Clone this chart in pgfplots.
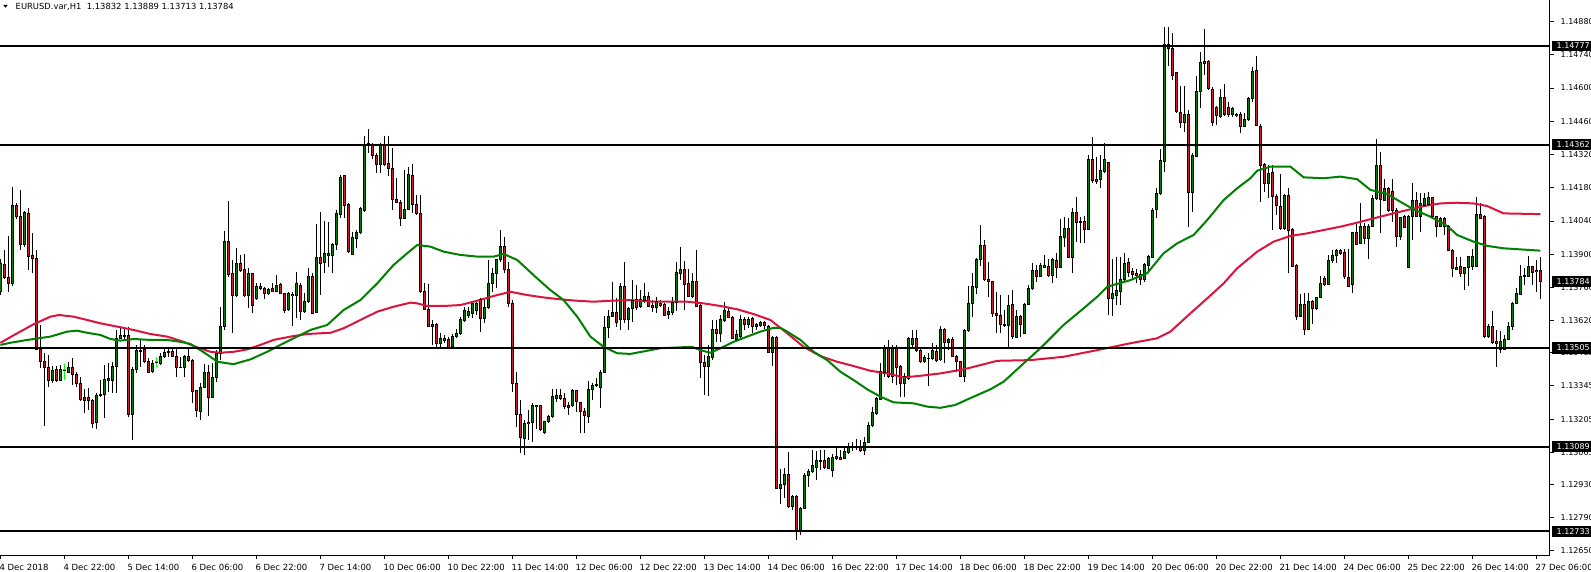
\documentclass[border=0pt]{standalone}
\usepackage{fontspec}
\setmainfont{DejaVu Sans}
\usepackage{pgfplots}
\usepackage{pgfplotstable}
\pgfplotsset{compat=1.18}
\definecolor{bullg}{RGB}{0,128,0}
\definecolor{bearr}{RGB}{205,30,45}
\definecolor{magreen}{RGB}{0,128,0}
\definecolor{mared}{RGB}{220,20,60}
\definecolor{limeg}{RGB}{0,255,0}

\pgfplotstableread{
i O H L C
0 1.13742 1.13880 1.13728 1.13859
3 1.13775 1.14182 1.13766 1.14107
6 1.13942 1.14084 1.13929 1.14075
13 1.13370 1.13429 1.13356 1.13412
15 1.13370 1.13433 1.13367 1.13415
16 1.13412 1.13438 1.13370 1.13413
17 1.13402 1.13447 1.13398 1.13421
24 1.13190 1.13314 1.13162 1.13307
25 1.13307 1.13370 1.13300 1.13308
26 1.13310 1.13433 1.13209 1.13373
27 1.13370 1.13440 1.13321 1.13377
28 1.13370 1.13447 1.13317 1.13429
29 1.13429 1.13581 1.13317 1.13546
30 1.13546 1.13588 1.13546 1.13556
33 1.13223 1.13424 1.13117 1.13415
34 1.13415 1.13518 1.13398 1.13494
38 1.13405 1.13454 1.13398 1.13440
39 1.13446 1.13466 1.13424 1.13447
40 1.13438 1.13483 1.13433 1.13471
41 1.13469 1.13504 1.13461 1.13485
42 1.13485 1.13511 1.13469 1.13490
46 1.13424 1.13475 1.13384 1.13471
50 1.13237 1.13356 1.13202 1.13339
51 1.13339 1.13438 1.13335 1.13402
53 1.13297 1.13440 1.13293 1.13381
54 1.13381 1.13497 1.13363 1.13483
55 1.13483 1.13679 1.13454 1.13595
56 1.13595 1.13998 1.13581 1.13952
59 1.13728 1.13925 1.13721 1.13862
62 1.13728 1.13841 1.13672 1.13820
64 1.13714 1.13777 1.13707 1.13766
67 1.13735 1.13756 1.13728 1.13752
69 1.13745 1.13813 1.13742 1.13770
72 1.13668 1.13741 1.13662 1.13735
74 1.13728 1.13824 1.13630 1.13775
76 1.13658 1.13735 1.13654 1.13702
77 1.13702 1.13841 1.13693 1.13808
79 1.13655 1.14027 1.13651 1.13887
81 1.13865 1.14042 1.13820 1.13904
82 1.13894 1.14035 1.13848 1.13904
83 1.13894 1.13946 1.13820 1.13942
84 1.13942 1.14087 1.13918 1.14073
85 1.14068 1.14234 1.14052 1.14224
88 1.13900 1.13995 1.13897 1.13972
89 1.13967 1.14002 1.13925 1.13993
90 1.13991 1.14097 1.13986 1.14091
91 1.14084 1.14396 1.14080 1.14363
95 1.14279 1.14368 1.14244 1.14356
101 1.14052 1.14255 1.14047 1.14090
102 1.14090 1.14269 1.14087 1.14234
110 1.13525 1.13570 1.13511 1.13546
113 1.13511 1.13564 1.13504 1.13553
114 1.13553 1.13584 1.13549 1.13567
115 1.13567 1.13637 1.13560 1.13623
116 1.13620 1.13679 1.13616 1.13661
117 1.13644 1.13679 1.13630 1.13658
118 1.13649 1.13696 1.13630 1.13693
119 1.13661 1.13708 1.13644 1.13693
121 1.13630 1.13708 1.13609 1.13675
122 1.13675 1.13876 1.13668 1.13778
123 1.13778 1.13841 1.13743 1.13817
124 1.13817 1.13879 1.13757 1.13876
125 1.13876 1.14002 1.13869 1.13932
131 1.13125 1.13202 1.13055 1.13188
133 1.13191 1.13272 1.13111 1.13261
134 1.13261 1.13265 1.13163 1.13262
136 1.13149 1.13199 1.13143 1.13195
137 1.13195 1.13223 1.13188 1.13216
138 1.13216 1.13331 1.13212 1.13300
139 1.13293 1.13331 1.13279 1.13303
143 1.13261 1.13331 1.13258 1.13324
147 1.13216 1.13364 1.13188 1.13331
148 1.13331 1.13359 1.13286 1.13349
149 1.13349 1.13378 1.13340 1.13350
150 1.13340 1.13413 1.13251 1.13403
151 1.13403 1.13640 1.13399 1.13592
152 1.13592 1.13665 1.13546 1.13637
153 1.13637 1.13785 1.13637 1.13654
155 1.13623 1.13778 1.13581 1.13764
157 1.13623 1.13679 1.13581 1.13672
158 1.13672 1.13791 1.13616 1.13707
160 1.13679 1.13749 1.13672 1.13710
161 1.13707 1.13777 1.13696 1.13724
164 1.13676 1.13721 1.13654 1.13700
167 1.13648 1.13679 1.13626 1.13658
168 1.13654 1.13721 1.13644 1.13696
169 1.13696 1.13869 1.13662 1.13822
170 1.13819 1.13932 1.13791 1.13836
173 1.13724 1.13819 1.13714 1.13784
177 1.13429 1.13518 1.13304 1.13468
178 1.13466 1.13623 1.13454 1.13581
180 1.13567 1.13644 1.13532 1.13623
181 1.13620 1.13700 1.13616 1.13661
184 1.13539 1.13581 1.13532 1.13560
185 1.13555 1.13644 1.13539 1.13626
187 1.13605 1.13634 1.13588 1.13626
190 1.13599 1.13620 1.13592 1.13612
193 1.13485 1.13555 1.13429 1.13550
195 1.12914 1.12994 1.12848 1.12928
196 1.12928 1.12998 1.12872 1.12974
198 1.12836 1.12886 1.12822 1.12881
200 1.12738 1.12836 1.12717 1.12829
201 1.12829 1.12980 1.12825 1.12966
202 1.12966 1.12994 1.12921 1.12984
203 1.12984 1.13075 1.12980 1.13008
204 1.13002 1.13072 1.12949 1.13033
207 1.12998 1.13047 1.12994 1.13040
208 1.12988 1.13058 1.12960 1.13044
211 1.13040 1.13092 1.13036 1.13068
212 1.13064 1.13103 1.13058 1.13092
216 1.13072 1.13131 1.13054 1.13107
217 1.13107 1.13195 1.13103 1.13180
218 1.13178 1.13258 1.13174 1.13232
219 1.13230 1.13300 1.13223 1.13293
220 1.13290 1.13440 1.13286 1.13405
221 1.13402 1.13518 1.13384 1.13503
223 1.13387 1.13518 1.13356 1.13503
226 1.13356 1.13398 1.13300 1.13384
227 1.13377 1.13553 1.13370 1.13546
228 1.13518 1.13581 1.13510 1.13546
231 1.13447 1.13475 1.13443 1.13464
232 1.13461 1.13482 1.13345 1.13462
233 1.13461 1.13525 1.13454 1.13494
235 1.13457 1.13598 1.13452 1.13584
237 1.13528 1.13546 1.13497 1.13542
241 1.13384 1.13584 1.13363 1.13577
242 1.13577 1.13766 1.13574 1.13693
243 1.13693 1.13820 1.13637 1.13764
244 1.13761 1.13883 1.13733 1.13879
245 1.13879 1.14023 1.13851 1.13935
252 1.13598 1.13728 1.13500 1.13686
254 1.13550 1.13665 1.13546 1.13637
256 1.13567 1.13696 1.13564 1.13690
257 1.13690 1.13771 1.13686 1.13755
258 1.13755 1.13865 1.13749 1.13831
260 1.13806 1.13865 1.13803 1.13851
261 1.13845 1.13897 1.13841 1.13852
263 1.13809 1.13883 1.13780 1.13876
265 1.13845 1.14047 1.13841 1.13974
266 1.13971 1.14058 1.13932 1.14009
268 1.13887 1.14094 1.13823 1.14075
270 1.14033 1.14058 1.13949 1.14037
272 1.14006 1.14318 1.14002 1.14297
275 1.14213 1.14318 1.14178 1.14251
276 1.14248 1.14367 1.14244 1.14297
278 1.13712 1.13879 1.13640 1.13735
279 1.13728 1.13887 1.13686 1.13747
280 1.13742 1.13887 1.13686 1.13794
281 1.13794 1.13904 1.13785 1.13862
286 1.13794 1.13862 1.13785 1.13855
287 1.13851 1.13897 1.13820 1.13890
288 1.13887 1.14094 1.13883 1.14084
289 1.14087 1.14178 1.14051 1.14157
290 1.14154 1.14342 1.14150 1.14294
291 1.14290 1.14859 1.14248 1.14782
296 1.14454 1.14609 1.14417 1.14490
298 1.14160 1.14325 1.14080 1.14314
299 1.14311 1.14651 1.14308 1.14585
300 1.14585 1.14754 1.14515 1.14707
301 1.14704 1.14848 1.14655 1.14714
305 1.14480 1.14595 1.14473 1.14561
308 1.14487 1.14522 1.14480 1.14515
311 1.14440 1.14497 1.14435 1.14466
312 1.14466 1.14564 1.14463 1.14557
313 1.14557 1.14690 1.14540 1.14670
317 1.14198 1.14275 1.14135 1.14240
321 1.14009 1.14153 1.14002 1.14149
325 1.13636 1.13732 1.13634 1.13688
327 1.13583 1.13738 1.13580 1.13700
329 1.13672 1.13721 1.13667 1.13717
330 1.13717 1.13808 1.13714 1.13777
332 1.13774 1.13896 1.13771 1.13875
333 1.13872 1.13917 1.13864 1.13896
334 1.13896 1.13924 1.13864 1.13917
338 1.13774 1.13995 1.13738 1.13990
340 1.13945 1.14117 1.13943 1.14018
342 1.13966 1.14027 1.13882 1.14018
343 1.14018 1.14149 1.14016 1.14135
344 1.14135 1.14384 1.14128 1.14275
346 1.14128 1.14219 1.14125 1.14177
350 1.13974 1.14058 1.13960 1.14054
352 1.13844 1.14065 1.13840 1.14061
353 1.14058 1.14201 1.13962 1.14128
355 1.14058 1.14156 1.13992 1.14114
356 1.14107 1.14159 1.14103 1.14135
357 1.14111 1.14163 1.14107 1.14139
360 1.14018 1.14058 1.14016 1.14051
364 1.13836 1.13889 1.13833 1.13844
366 1.13819 1.13847 1.13749 1.13844
367 1.13844 1.13889 1.13766 1.13889
368 1.13847 1.13924 1.13833 1.13889
369 1.13850 1.14139 1.13847 1.14069
372 1.13552 1.13606 1.13549 1.13597
375 1.13499 1.13577 1.13486 1.13531
376 1.13499 1.13559 1.13496 1.13541
377 1.13541 1.13615 1.13538 1.13597
378 1.13597 1.13700 1.13580 1.13693
379 1.13693 1.13756 1.13690 1.13735
380 1.13732 1.13854 1.13728 1.13808
381 1.13805 1.13840 1.13770 1.13812
382 1.13808 1.13892 1.13805 1.13847
}\bull

\pgfplotstableread{
i O H L C
1 1.13857 1.13918 1.13794 1.13803
2 1.13803 1.13977 1.13742 1.13777
4 1.14107 1.14117 1.14047 1.14058
5 1.14061 1.14171 1.13918 1.13942
7 1.14072 1.14093 1.13834 1.13890
8 1.13893 1.13988 1.13820 1.13881
9 1.13883 1.13918 1.13497 1.13499
10 1.13499 1.13602 1.13419 1.13447
11 1.13450 1.13483 1.13176 1.13424
12 1.13424 1.13476 1.13342 1.13367
14 1.13415 1.13429 1.13363 1.13370
18 1.13421 1.13461 1.13349 1.13395
19 1.13395 1.13405 1.13342 1.13356
20 1.13356 1.13384 1.13283 1.13286
21 1.13297 1.13331 1.13230 1.13283
22 1.13297 1.13335 1.13244 1.13283
23 1.13283 1.13289 1.13167 1.13188
31 1.13556 1.13588 1.13539 1.13554
32 1.13556 1.13595 1.13216 1.13223
35 1.13494 1.13539 1.13426 1.13492
36 1.13497 1.13518 1.13440 1.13447
37 1.13450 1.13461 1.13398 1.13401
43 1.13492 1.13508 1.13466 1.13471
44 1.13471 1.13504 1.13384 1.13424
45 1.13424 1.13469 1.13420 1.13423
47 1.13471 1.13511 1.13447 1.13454
48 1.13454 1.13457 1.13272 1.13321
49 1.13325 1.13328 1.13216 1.13241
52 1.13402 1.13433 1.13219 1.13297
57 1.13952 1.14124 1.13803 1.13813
58 1.13817 1.13876 1.13570 1.13728
60 1.13862 1.13897 1.13827 1.13831
61 1.13834 1.13901 1.13721 1.13728
63 1.13817 1.13820 1.13654 1.13683
65 1.13766 1.13777 1.13749 1.13755
66 1.13756 1.13763 1.13710 1.13735
68 1.13754 1.13777 1.13742 1.13745
70 1.13773 1.13777 1.13732 1.13735
71 1.13735 1.13738 1.13654 1.13662
73 1.13730 1.13742 1.13598 1.13729
75 1.13770 1.13777 1.13623 1.13658
78 1.13808 1.13822 1.13648 1.13651
80 1.13886 1.14080 1.13729 1.13862
86 1.14230 1.14234 1.14052 1.14105
87 1.14108 1.14115 1.13904 1.13911
92 1.14368 1.14428 1.14325 1.14358
93 1.14356 1.14368 1.14300 1.14314
94 1.14314 1.14325 1.14244 1.14279
96 1.14356 1.14396 1.14272 1.14279
97 1.14283 1.14400 1.14230 1.14262
98 1.14262 1.14347 1.14087 1.14132
99 1.14132 1.14220 1.14118 1.14119
100 1.14118 1.14129 1.14017 1.14052
103 1.14230 1.14279 1.14073 1.14111
104 1.14111 1.14150 1.14066 1.14073
105 1.14073 1.14150 1.13736 1.13743
106 1.13743 1.13778 1.13665 1.13668
107 1.13668 1.13775 1.13592 1.13595
108 1.13605 1.13623 1.13518 1.13595
109 1.13605 1.13609 1.13500 1.13525
111 1.13546 1.13560 1.13525 1.13536
112 1.13542 1.13553 1.13500 1.13504
120 1.13710 1.13715 1.13574 1.13630
126 1.13932 1.13974 1.13820 1.13834
127 1.13834 1.13869 1.13679 1.13693
128 1.13693 1.13708 1.13321 1.13356
129 1.13356 1.13406 1.13174 1.13223
130 1.13223 1.13286 1.13062 1.13128
132 1.13191 1.13244 1.13118 1.13190
135 1.13261 1.13265 1.13157 1.13163
140 1.13303 1.13331 1.13286 1.13293
141 1.13293 1.13314 1.13247 1.13258
142 1.13262 1.13279 1.13223 1.13255
144 1.13324 1.13326 1.13237 1.13279
145 1.13276 1.13279 1.13149 1.13237
146 1.13237 1.13251 1.13149 1.13219
154 1.13654 1.13715 1.13595 1.13613
156 1.13764 1.13869 1.13609 1.13623
159 1.13710 1.13770 1.13665 1.13676
162 1.13724 1.13742 1.13676 1.13679
163 1.13682 1.13707 1.13658 1.13676
165 1.13693 1.13707 1.13679 1.13686
166 1.13690 1.13693 1.13640 1.13644
171 1.13836 1.13871 1.13665 1.13773
172 1.13777 1.13836 1.13721 1.13724
174 1.13784 1.13918 1.13676 1.13679
175 1.13682 1.13690 1.13380 1.13443
176 1.13443 1.13475 1.13307 1.13429
179 1.13581 1.13623 1.13532 1.13567
182 1.13658 1.13679 1.13630 1.13634
183 1.13634 1.13640 1.13541 1.13546
186 1.13626 1.13634 1.13581 1.13605
188 1.13630 1.13634 1.13570 1.13595
189 1.13602 1.13612 1.13581 1.13595
191 1.13612 1.13620 1.13584 1.13598
192 1.13595 1.13602 1.13482 1.13485
194 1.13550 1.13555 1.12909 1.12914
197 1.12974 1.13068 1.12829 1.12836
199 1.12881 1.12886 1.12696 1.12738
205 1.13033 1.13075 1.12991 1.13026
206 1.13030 1.13075 1.12994 1.13002
209 1.13047 1.13082 1.13033 1.13040
210 1.13044 1.13075 1.13033 1.13037
213 1.13092 1.13110 1.13072 1.13086
214 1.13092 1.13120 1.13075 1.13086
215 1.13086 1.13117 1.13068 1.13075
222 1.13506 1.13539 1.13377 1.13384
224 1.13503 1.13518 1.13349 1.13423
225 1.13429 1.13433 1.13300 1.13356
229 1.13546 1.13581 1.13489 1.13494
230 1.13496 1.13503 1.13443 1.13450
234 1.13492 1.13518 1.13447 1.13454
236 1.13584 1.13588 1.13441 1.13528
238 1.13542 1.13553 1.13469 1.13471
239 1.13471 1.13476 1.13405 1.13450
240 1.13450 1.13452 1.13382 1.13384
246 1.13935 1.13960 1.13789 1.13794
247 1.13794 1.13869 1.13721 1.13785
248 1.13785 1.13789 1.13637 1.13651
249 1.13651 1.13743 1.13567 1.13641
250 1.13644 1.13728 1.13567 1.13602
251 1.13602 1.13665 1.13595 1.13598
253 1.13690 1.13750 1.13542 1.13553
255 1.13637 1.13644 1.13553 1.13602
259 1.13831 1.13855 1.13785 1.13806
262 1.13848 1.13879 1.13803 1.13809
264 1.13873 1.13904 1.13799 1.13845
267 1.14009 1.14051 1.13883 1.13887
269 1.14075 1.14140 1.13953 1.14033
271 1.14037 1.14061 1.13949 1.14006
273 1.14297 1.14393 1.14199 1.14209
274 1.14216 1.14311 1.14196 1.14206
277 1.14287 1.14290 1.13644 1.13714
282 1.13866 1.13883 1.13806 1.13824
283 1.13827 1.13841 1.13792 1.13813
284 1.13817 1.13836 1.13778 1.13809
285 1.13813 1.13834 1.13771 1.13794
292 1.14782 1.14859 1.14693 1.14768
293 1.14768 1.14831 1.14634 1.14655
294 1.14667 1.14669 1.14494 1.14501
295 1.14498 1.14609 1.14431 1.14454
297 1.14490 1.14508 1.14016 1.14160
302 1.14714 1.14718 1.14592 1.14599
303 1.14596 1.14603 1.14440 1.14456
304 1.14519 1.14525 1.14445 1.14483
306 1.14561 1.14617 1.14483 1.14490
307 1.14519 1.14543 1.14480 1.14487
309 1.14488 1.14494 1.14477 1.14487
310 1.14487 1.14501 1.14410 1.14440
314 1.14675 1.14735 1.14440 1.14444
315 1.14440 1.14448 1.14121 1.14275
316 1.14280 1.14285 1.14163 1.14198
318 1.14243 1.14275 1.14002 1.14142
319 1.14142 1.14153 1.14065 1.14107
320 1.14103 1.14240 1.14002 1.14009
322 1.14149 1.14177 1.13819 1.14002
323 1.14004 1.14009 1.13847 1.13850
324 1.13854 1.13858 1.13622 1.13636
326 1.13688 1.13735 1.13559 1.13583
328 1.13700 1.13707 1.13606 1.13672
331 1.13798 1.13808 1.13766 1.13774
335 1.13915 1.13920 1.13896 1.13903
336 1.13907 1.13924 1.13794 1.13805
337 1.13802 1.13924 1.13763 1.13766
339 1.13990 1.14037 1.13938 1.13943
341 1.14018 1.14030 1.13945 1.13966
345 1.14275 1.14332 1.13988 1.14131
347 1.14177 1.14184 1.14079 1.14086
348 1.14163 1.14215 1.14037 1.14083
349 1.14083 1.14093 1.13929 1.13974
351 1.14058 1.14065 1.14009 1.14011
354 1.14128 1.14163 1.14055 1.14058
358 1.14139 1.14142 1.14055 1.14058
359 1.14058 1.14061 1.13974 1.14018
361 1.14051 1.14055 1.13981 1.14018
362 1.14018 1.14023 1.13915 1.13917
363 1.13917 1.13924 1.13805 1.13840
365 1.13847 1.13889 1.13805 1.13819
370 1.14066 1.14114 1.14047 1.14051
371 1.14058 1.14065 1.13549 1.13552
373 1.13597 1.13662 1.13521 1.13527
374 1.13531 1.13580 1.13423 1.13524
383 1.13847 1.13850 1.13770 1.13822
384 1.13831 1.13875 1.13742 1.13830
385 1.13832 1.13889 1.13713 1.13784
}\bear

\pgfplotstableread{
i O H L C
16 1.13412 1.13438 1.13370 1.13413
39 1.13446 1.13466 1.13424 1.13447
}\limedoji

\pgfplotstableread{
i P
0 1.13518
2.5 1.13527
6.7 1.13539
12.5 1.13553
16.7 1.13574
19.2 1.13578
21.7 1.13569
25 1.13560
27.5 1.13543
30 1.13536
33.3 1.13543
37.5 1.13539
41.7 1.13539
45 1.13531
47.5 1.13522
50 1.13496
52.5 1.13468
54.2 1.13447
58.3 1.13437
62.5 1.13457
66.7 1.13489
70.8 1.13525
75 1.13560
77.5 1.13581
81.7 1.13602
85.8 1.13665
90 1.13707
94.2 1.13777
98.3 1.13855
101.7 1.13904
104.2 1.13939
107.5 1.13932
110.8 1.13911
115 1.13897
119.2 1.13890
123.3 1.13890
125.8 1.13901
129.2 1.13876
134.2 1.13798
137.5 1.13749
140.8 1.13707
144.2 1.13637
147.5 1.13553
150.8 1.13510
154.2 1.13483
157.5 1.13480
165 1.13504
172.9 1.13510
175 1.13496
177.5 1.13485
180 1.13504
183.3 1.13531
186.7 1.13553
190 1.13574
193.3 1.13590
195 1.13590
196.7 1.13574
200 1.13539
203.3 1.13489
206.7 1.13454
210 1.13405
213.3 1.13370
216.7 1.13331
220 1.13300
223.3 1.13276
228.3 1.13272
231.7 1.13258
235 1.13253
238.7 1.13265
242.5 1.13294
247.5 1.13331
250.8 1.13363
255.8 1.13440
260 1.13504
265.8 1.13602
270.8 1.13672
274.2 1.13721
276.7 1.13763
282.5 1.13791
286.7 1.13820
290.8 1.13904
294.2 1.13946
298.3 1.13981
301.7 1.14044
305.8 1.14128
309.2 1.14178
312.5 1.14220
314.2 1.14252
317.5 1.14269
322.5 1.14269
325.8 1.14224
330.8 1.14220
335 1.14227
339.2 1.14216
342.5 1.14171
346.7 1.14154
350 1.14121
353.3 1.14089
357.5 1.14058
361.7 1.14019
364.2 1.13981
368.3 1.13953
371.7 1.13935
375.8 1.13925
385 1.13915
}\gma

\pgfplotstableread{
i P
0 1.13527
4.2 1.13567
8.3 1.13605
12.5 1.13637
14.6 1.13644
18.3 1.13637
21.7 1.13623
25 1.13609
29.2 1.13595
33.3 1.13581
37.5 1.13564
41.7 1.13553
45.8 1.13531
49.2 1.13508
52.5 1.13489
55 1.13485
58.3 1.13489
61.7 1.13499
65 1.13518
68.3 1.13539
72.5 1.13553
76.7 1.13564
80 1.13567
82.5 1.13569
85.8 1.13588
90 1.13623
94.2 1.13658
98.3 1.13679
102.5 1.13696
104.2 1.13693
106.7 1.13682
110.8 1.13682
115 1.13686
119.2 1.13704
123.3 1.13724
127.5 1.13742
131.7 1.13728
135.8 1.13718
140 1.13710
144.2 1.13704
148.3 1.13700
152.5 1.13704
157.5 1.13707
163.3 1.13700
171.7 1.13700
175.8 1.13693
180 1.13682
184.2 1.13668
188.3 1.13648
192.5 1.13623
196.7 1.13567
200.8 1.13510
205 1.13471
209.2 1.13447
213.3 1.13429
217.5 1.13409
221.7 1.13398
225.8 1.13381
230 1.13388
235 1.13398
240.8 1.13415
245 1.13433
249.2 1.13451
257.5 1.13454
265.8 1.13468
274.2 1.13496
282.5 1.13525
289.2 1.13546
292.5 1.13574
297.5 1.13651
301.7 1.13714
305.8 1.13777
309.2 1.13841
312.5 1.13887
314.2 1.13911
318.3 1.13953
322.5 1.13977
326.7 1.13988
330.8 1.14002
335 1.14016
339.2 1.14033
343.3 1.14051
347.5 1.14069
351.7 1.14086
355.8 1.14103
360 1.14114
364.2 1.14117
368.3 1.14114
371.7 1.14103
375.8 1.14072
385 1.14069
}\rma

\begin{document}
\begin{tikzpicture}
\begin{axis}[
  at={(0pt,0pt)}, anchor=south west,
  scale only axis, width=1550pt, height=555pt,
  xmin=-0.1, xmax=387.4, ymin=1.12633, ymax=1.14971,
  axis x line*=bottom, axis y line*=right,
  axis line style={-, black, line width=1pt},
  tick align=outside, major tick length=4pt,
  tick style={black, line width=1pt},
  xtick={0,16,...,384},
  xticklabels={4 Dec 2018,4 Dec 22:00,5 Dec 14:00,6 Dec 06:00,6 Dec 22:00,7 Dec 14:00,10 Dec 06:00,10 Dec 22:00,11 Dec 14:00,12 Dec 06:00,12 Dec 22:00,13 Dec 14:00,14 Dec 06:00,16 Dec 22:00,17 Dec 14:00,18 Dec 06:00,18 Dec 22:00,19 Dec 14:00,20 Dec 06:00,20 Dec 22:00,21 Dec 14:00,24 Dec 06:00,25 Dec 22:00,26 Dec 14:00,27 Dec 06:00},
  xticklabel style={anchor=west, inner sep=0pt, yshift=-8.5pt, xshift=-1pt, font=\fontsize{8.5}{10}\selectfont},
  ytick={1.12650,1.12790,1.12930,1.13065,1.13205,1.13345,1.13485,1.13620,1.13760,1.13900,1.14040,1.14180,1.14320,1.14460,1.14600,1.14740,1.14880},
  yticklabels={1.12650,1.12790,1.12930,1.13065,1.13205,1.13345,1.13485,1.13620,1.13760,1.13900,1.14040,1.14180,1.14320,1.14460,1.14600,1.14740,1.14880},
  yticklabel style={anchor=west, inner sep=0pt, xshift=6.5pt, font=\fontsize{8}{9.5}\selectfont},
  extra y ticks={1.14777,1.14362,1.13784,1.13505,1.13089,1.12733},
  extra y tick labels={1.14777,1.14362,1.13784,1.13505,1.13089,1.12733},
  extra y tick style={major tick length=0pt, yticklabel style={fill=black, text=white, inner xsep=5pt, inner ysep=2.5pt, xshift=-5pt}},
]
% wicks
\addplot[draw=none, mark=none, forget plot, error bars/.cd, y dir=minus, y explicit, error mark=none, error bar style={draw=black, line width=1pt}]
  table[x=i, y=H, y error minus expr=\thisrow{H}-\thisrow{L}] {\bull};
\addplot[draw=none, mark=none, forget plot, error bars/.cd, y dir=minus, y explicit, error mark=none, error bar style={draw=black, line width=1pt}]
  table[x=i, y=H, y error minus expr=\thisrow{H}-\thisrow{L}] {\bear};
% bodies outer
\addplot[draw=none, mark=none, forget plot, error bars/.cd, y dir=minus, y explicit, error mark=none, error bar style={draw=black, line width=3pt}]
  table[x=i, y=C, y error minus expr=\thisrow{C}-\thisrow{O}] {\bull};
\addplot[draw=none, mark=none, forget plot, error bars/.cd, y dir=minus, y explicit, error mark=none, error bar style={draw=black, line width=3pt}]
  table[x=i, y=O, y error minus expr=\thisrow{O}-\thisrow{C}] {\bear};
% bodies inner
\addplot[draw=none, mark=none, forget plot, error bars/.cd, y dir=minus, y explicit, error mark=none, error bar style={draw=bullg, line width=1pt}]
  table[x=i, y=C, y error minus expr=\thisrow{C}-\thisrow{O}] {\bull};
\addplot[draw=none, mark=none, forget plot, error bars/.cd, y dir=minus, y explicit, error mark=none, error bar style={draw=bearr, line width=1pt}]
  table[x=i, y=O, y error minus expr=\thisrow{O}-\thisrow{C}] {\bear};
% body caps
\addplot[only marks, mark=-, mark size=1.5pt, mark options={black, line width=1pt}, forget plot] table[x=i, y=O] {\bull};
\addplot[only marks, mark=-, mark size=1.5pt, mark options={black, line width=1pt}, forget plot] table[x=i, y=C] {\bull};
\addplot[only marks, mark=-, mark size=1.5pt, mark options={black, line width=1pt}, forget plot] table[x=i, y=O] {\bear};
\addplot[only marks, mark=-, mark size=1.5pt, mark options={black, line width=1pt}, forget plot] table[x=i, y=C] {\bear};
% lime dojis
\addplot[draw=none, mark=none, forget plot, error bars/.cd, y dir=minus, y explicit, error mark=none, error bar style={draw=limeg, line width=1pt}]
  table[x=i, y=H, y error minus expr=\thisrow{H}-\thisrow{L}] {\limedoji};
\addplot[only marks, mark=-, mark size=1.5pt, mark options={limeg, line width=1pt}, forget plot] table[x=i, y=C] {\limedoji};
% moving averages
\addplot[mared, line width=2pt, mark=none] table[x=i, y=P] {\rma};
\addplot[magreen, line width=2pt, mark=none] table[x=i, y=P] {\gma};
% horizontal levels
\addplot[black, line width=2pt, mark=none] coordinates {(-1,1.14777) (390,1.14777)};
\addplot[black, line width=2pt, mark=none] coordinates {(-1,1.14362) (390,1.14362)};
\addplot[black, line width=2pt, mark=none] coordinates {(-1,1.13505) (390,1.13505)};
\addplot[black, line width=2pt, mark=none] coordinates {(-1,1.13089) (390,1.13089)};
\addplot[black, line width=2pt, mark=none] coordinates {(-1,1.12733) (390,1.12733)};
\end{axis}
\fill[black] (3.3pt,550pt) -- (7.7pt,550pt) -- (5.5pt,547.4pt) -- cycle;
\node[anchor=west, inner sep=0pt, font=\fontsize{8.4}{10}\selectfont] at (15.5pt,548.5pt) {EURUSD.var,H1\ \ 1.13832 1.13889 1.13713 1.13784};
\pgfresetboundingbox
\path[use as bounding box] (0pt,-16pt) rectangle (1591pt,555pt);
\end{tikzpicture}
\end{document}
